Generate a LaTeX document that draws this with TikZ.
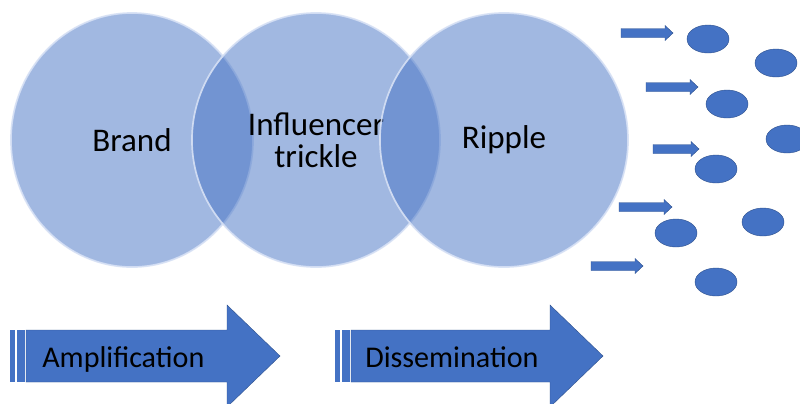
\documentclass[tikz,border=0pt]{standalone}
\usepackage{fontspec}
\setmainfont{Carlito}
\usetikzlibrary{shapes.geometric}
\definecolor{officeblue}{RGB}{68,114,196}
\definecolor{edgeblue}{RGB}{47,82,143}
\definecolor{rimblue}{RGB}{215,225,245}
\tikzset{
  bubble/.style={ellipse,minimum width=6.2cm,minimum height=6.35cm,inner sep=0pt,fill=officeblue,fill opacity=0.5,
    draw=rimblue,line width=1.2pt,draw opacity=0.9,text opacity=1,
    font=\fontsize{23.5}{24}\selectfont,align=center},
  dot/.style={ellipse,minimum width=1.05cm,minimum height=0.7cm,inner sep=0pt,
    fill=officeblue,draw=edgeblue,line width=0.3pt},
  bigarrow/.style={fill=officeblue,draw=edgeblue,line width=0.3pt},
  arrowtext/.style={anchor=base west,inner sep=0pt,font=\fontsize{21.4}{24}\selectfont}
}
\begin{document}
\begin{tikzpicture}[x=0.025cm,y=-0.025cm]
	\clip (0,0) rectangle (800,403);
	\fill[white] (0,0) rectangle (800,403);
	
	% three overlapping circles
	\node[bubble,minimum width=6.05cm] (brand) at (132,140) {Brand};
	\node[bubble] (influencer) at (316,140) {Influencer\\[-1pt]trickle};
	\node[bubble] (ripple) at (504,140) {Ripple};
	
	% small arrows
	\foreach \a/\b/\y in {621/673/33, 646/698/87, 653/699/149, 619/672/207, 591/643/266}
	\filldraw[bigarrow] (\a,\y-4.5) -- (\b-8,\y-4.5) -- (\b-8,\y-7.5) -- (\b,\y)
		-- (\b-8,\y+7.5) -- (\b-8,\y+4.5) -- (\a,\y+4.5) -- cycle;
	
	% scattered dots
	\foreach \x/\y [count=\i] in {708/39, 776/63, 727/104, 787/139, 716/169, 763/222, 676/233, 716/282}
	\node[dot] (dot\i) at (\x,\y) {};
	
	% big arrows
	\foreach \s/\e/\t in {10/227/280, 335/550/603}{
		\fill[officeblue] (\s,330) rectangle (\s+5,382);
		\fill[officeblue] (\s+6.5,330) rectangle (\s+14.5,382);
		\filldraw[bigarrow] (\s+16,330) -- (\e,330) -- (\e,305) -- (\t,356) -- (\e,407)
			-- (\e,382) -- (\s+16,382) -- cycle;
	}
	\node[arrowtext] (amplification) at (42,367) {Amplification};
	\node[arrowtext] (dissemination) at (365,367) {Dissemination};
\end{tikzpicture}
\end{document}
